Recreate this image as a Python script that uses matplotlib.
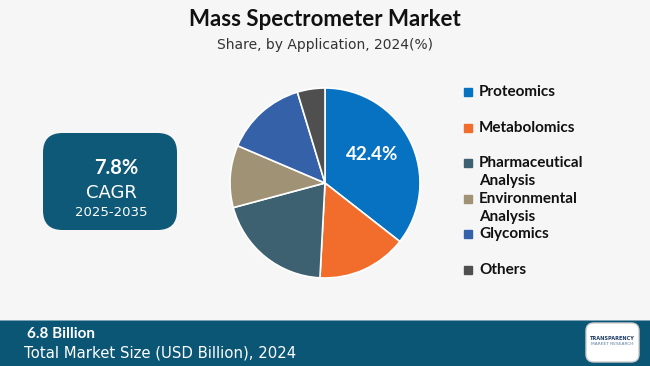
import matplotlib.pyplot as plt
from matplotlib.patches import FancyBboxPatch, Rectangle

# data
labels = ['Proteomics', 'Metabolomics', 'Pharmaceutical\nAnalysis',
          'Environmental\nAnalysis', 'Glycomics', 'Others']
shares = [35.6, 15.3, 20.0, 10.6, 13.9, 4.7]
colors = ['#0872C2', '#F26D2B', '#3D6170', '#A09274', '#3461A8', '#4F4F4F']
top_label = '42.4%'
cagr = '7.8%'
cagr_years = '2025-2035'
market_size = '6.8 Billion'

W, H = 650, 366
fig = plt.figure(figsize=(W / 100, H / 100), dpi=100)
fig.patch.set_facecolor('#F6F6F6')


def fx(x):
    return x / W


def fy(y):
    return 1 - y / H


# title block
fig.text(0.5, fy(19), 'Mass Spectrometer Market', ha='center', va='center',
         fontsize=16, fontweight='bold', family='Lato', color='#111111')
fig.text(0.5, fy(45), 'Share, by Application, 2024(%)', ha='center', va='center',
         fontsize=10, family='DejaVu Sans', color='#333333')

# pie
cx, cy, r = 325, 183, 95
ax = fig.add_axes([fx(cx - r), fy(cy + r), 2 * r / W, 2 * r / H])
ax.pie(shares, colors=colors, startangle=90, counterclock=False,
       wedgeprops={'edgecolor': 'white', 'linewidth': 1.2})
ax.set_xlim(-1, 1)
ax.set_ylim(-1, 1)
ax.set_aspect('equal')
ax.axis('off')
ax.text(0.5, 0.3, top_label, ha='center', va='center', color='white',
        fontsize=13.5, fontweight='bold', family='Lato')

# legend, squares evenly spaced, wrapped labels run downward
for i, (lab, c) in enumerate(zip(labels, colors)):
    y = 92 + i * 35.6
    fig.patches.append(Rectangle((fx(464), fy(y + 4)), 8 / W, 8 / H,
                                 transform=fig.transFigure, color=c))
    fig.text(fx(479), fy(y - 7), lab, ha='left', va='top', fontsize=11,
             fontweight='bold', family='Lato', color='#111111',
             linespacing=1.35)

# CAGR box
fig.patches.append(FancyBboxPatch((fx(43), fy(230)), 134 / W, 97 / H,
                                  boxstyle='round,pad=0,rounding_size=0.03',
                                  transform=fig.transFigure,
                                  facecolor='#0E5878', edgecolor='none',
                                  mutation_aspect=W / H))
fig.text(fx(116), fy(168), cagr, ha='center', va='center', color='white',
         fontsize=14.5, fontweight='bold', family='Lato')
fig.text(fx(111), fy(193), 'CAGR', ha='center', va='center', color='white',
         fontsize=13, family='DejaVu Sans')
fig.text(fx(111), fy(213), cagr_years, ha='center', va='center',
         color='white', fontsize=9.5, family='DejaVu Sans')

# bottom band
fig.patches.append(Rectangle((0, 0), 1, 45 / H, transform=fig.transFigure,
                             facecolor='#0C5675', edgecolor='none'))
fig.patches.append(Rectangle((0, 45 / H), 1, 1.5 / H, transform=fig.transFigure,
                             facecolor='#7FA3B6', edgecolor='none'))
fig.text(fx(27), fy(334), market_size, ha='left', va='center', color='white',
         fontsize=11, fontweight='bold', family='Lato')
fig.text(fx(24), fy(353), 'Total Market Size (USD Billion), 2024', ha='left',
         va='center', color='white', fontsize=10.7, family='DejaVu Sans')

# logo box
fig.patches.append(FancyBboxPatch((fx(586), fy(362)), 53 / W, 39 / H,
                                  boxstyle='round,pad=0,rounding_size=0.012',
                                  transform=fig.transFigure,
                                  facecolor='white', edgecolor='#CCCCCC',
                                  mutation_aspect=W / H))
fig.text(fx(612), fy(338), 'TRANSPARENCY', ha='center', va='center',
         fontsize=3.6, fontweight='bold', color='#1F3C66')
fig.text(fx(612), fy(344), 'MARKET RESEARCH', ha='center', va='center',
         fontsize=3.2, color='#5A7FA0')

fig.savefig('out.png', dpi=100, facecolor=fig.get_facecolor())
